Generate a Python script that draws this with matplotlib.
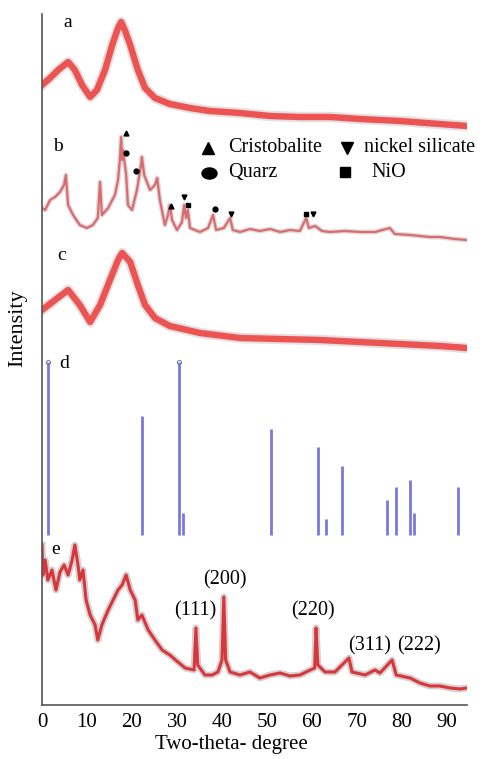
import matplotlib
matplotlib.use("Agg")
import matplotlib.pyplot as plt
from matplotlib.markers import MarkerStyle
from matplotlib.transforms import Affine2D

plt.rcParams['font.family'] = ['Liberation Serif', 'DejaVu Serif']

# ---------------- data (two-theta, relative intensity) ----------------
a_x = [0, 1.8, 3.6, 5.8, 7.3, 8.9, 10.7, 12.2, 14.0, 15.6, 16.9, 17.6, 18.4, 19.6, 21.3,
       22.9, 25.1, 28.4, 32.9, 37.3, 44.0, 50.7, 57.3, 64.0, 70.7, 79.6, 88.4, 94.4]
a_y = [40, 47, 55, 63, 55, 40, 28, 35, 55, 80, 97, 103, 95, 80, 55,
       37, 27, 21, 17, 14, 12, 9, 8, 8, 6, 4, 1, -1]

b_x = [0, 0.7, 1.8, 2.9, 4.0, 4.9, 5.3, 5.8, 6.9, 8.4, 10.0, 11.3, 12.4, 12.9, 13.3,
       14.7, 16.2, 16.9, 17.3, 17.6, 17.8, 18.0, 18.7, 19.1, 20.0, 21.1, 22.0, 22.2, 22.7,
       24.0, 25.1, 25.6, 26.2, 27.3, 28.0, 28.4, 28.9, 30.0, 31.1, 31.6, 32.0, 32.4, 32.9,
       35.1, 36.9, 38.0, 38.7, 40.4, 41.8, 42.4, 44.0, 46.2, 48.4, 50.7, 52.9, 55.1, 57.3,
       58.7, 59.3, 60.7, 62.2, 64.0, 67.3, 70.7, 74.0, 77.3, 78.4, 81.8, 84.0, 86.2, 88.4,
       91.8, 94.4]
b_y = [30, 28, 38, 41, 46, 53, 63, 33, 23, 13, 10, 13, 20, 56, 23,
       30, 43, 58, 78, 101, 78, 88, 63, 33, 28, 48, 73, 81, 63,
       48, 53, 60, 38, 13, 23, 33, 18, 8, 16, 33, 20, 28, 10,
       6, 10, 23, 8, 10, 20, 8, 6, 9, 7, 9, 6, 8, 7,
       20, 10, 12, 7, 6, 7, 6, 6, 10, 4, 3, 2, 1, 1,
       -1, -2]

c_x = [0, 2.9, 5.8, 8.4, 10.7, 12.9, 15.1, 16.9, 17.8, 19.6, 21.3, 22.9, 25.1, 28.4,
       35.1, 44.0, 52.9, 61.8, 70.7, 79.6, 88.4, 94.4]
c_y = [37, 47, 57, 42, 25, 42, 67, 87, 94, 85, 62, 42, 29, 21,
       14, 9, 8, 7, 5, 3, 1, -1]

# reference pattern (d): stick positions and relative intensities
d_x = [1.3, 22.2, 30.4, 31.3, 50.9, 61.3, 63.1, 66.7, 76.7, 78.7, 81.8, 82.7, 92.4]
d_y = [100, 69, 100, 13, 61, 51, 9, 40, 20, 28, 32, 13, 28]

e_x = [0, 0.2, 0.7, 1.3, 2.2, 3.1, 4.0, 4.9, 5.8, 6.7, 7.3, 8.0, 8.4, 9.1, 9.8, 10.7,
       11.8, 12.4, 13.3, 14.7, 15.8, 16.9, 17.8, 18.7, 19.6, 20.7, 21.3, 22.2, 23.6, 25.1,
       26.7, 28.4, 30.2, 31.8, 33.8, 34.2, 34.6, 36.2, 37.8, 39.1, 40.0, 40.4, 40.8, 41.8,
       44.0, 46.2, 48.4, 50.7, 52.9, 55.1, 57.3, 59.6, 60.6, 60.9, 61.3, 62.9, 65.1, 68.2,
       68.9, 71.8, 74.0, 75.1, 77.8, 78.7, 81.8, 84.0, 86.2, 88.4, 90.7, 92.9, 94.4]
e_y = [155, 125, 140, 120, 130, 110, 128, 135, 125, 140, 155, 135, 120, 130, 100, 85,
       75, 60, 75, 90, 100, 110, 115, 125, 110, 100, 80, 85, 70, 60,
       50, 45, 38, 32, 30, 72, 35, 25, 25, 28, 40, 103, 40, 28,
       25, 28, 22, 25, 27, 24, 25, 30, 32, 72, 35, 28, 28, 42,
       28, 25, 30, 27, 40, 25, 22, 17, 14, 14, 12, 11, 12]

# phase markers on pattern b: (two-theta, height)
cristobalite_x, cristobalite_y = [18.7, 28.7], [105, 32]
quarz_x, quarz_y = [18.7, 20.9, 38.4], [85, 67, 29]
nisil_x, nisil_y = [31.6, 42.0, 60.2], [41, 24, 24]
nio_x, nio_y = [32.4, 58.7], [33, 24]

hkl_labels = ['(111)', '(200)', '(220)', '(311)', '(222)']
xticks = [0, 10, 20, 30, 40, 50, 60, 70, 80, 90]

# ---------------- layout ----------------
W, H = 488, 759
fig = plt.figure(figsize=(W / 100, H / 100), dpi=100)
L, R, T, B = 42, 467, 14, 705
ax = fig.add_axes([L / W, 1 - B / H, (R - L) / W, (B - T) / H])
XMAX = (R - L) / 4.5
ax.set_xlim(0, XMAX)
ax.set_ylim(0, B - T)


def P(px, py):
    """pixel position -> data position (for text placement)."""
    return (px - L) / 4.5, B - py


off_a, off_b, off_c, off_d, off_e = 580, 467, 358, 170, 5
d_scale = 1.73

red = '#ee3b3b'
for xs, ys, off in [(a_x, a_y, off_a), (c_x, c_y, off_c)]:
    yy = [v + off for v in ys]
    ax.plot(xs, yy, color='#b8a4a4', lw=7.5, alpha=0.35, solid_joinstyle='round')
    ax.plot(xs, yy, color=red, lw=4.6, alpha=0.85, solid_joinstyle='round')

yb = [v + off_b for v in b_y]
ax.plot(b_x, yb, color='#c0acac', lw=3.6, alpha=0.45, solid_joinstyle='round')
ax.plot(b_x, yb, color='#d8666c', lw=1.6, alpha=0.95, solid_joinstyle='round')

blue = '#7a78dc'
ax.vlines(d_x, off_d, [off_d + v * d_scale for v in d_y], color=blue, lw=2.0)
top_x = [x for x, v in zip(d_x, d_y) if v == max(d_y)]
ax.plot(top_x, [off_d + max(d_y) * d_scale] * len(top_x), 'o', ms=3, mfc='none', mec='#8080a0', mew=0.8)

ye = [v + off_e for v in e_y]
ax.plot(e_x, ye, color='#a89898', lw=5.0, alpha=0.45, solid_joinstyle='round')
ax.plot(e_x, ye, color='#d8262c', lw=2.2, alpha=0.9, solid_joinstyle='round')

# phase markers
mk = dict(color='black', ls='none')
ax.plot(cristobalite_x, [v + off_b for v in cristobalite_y], marker='^', ms=3.5, **mk)
ax.plot(quarz_x, [v + off_b for v in quarz_y], marker='o', ms=3.5, **mk)
ax.plot(nisil_x, [v + off_b for v in nisil_y], marker='v', ms=3.5, **mk)
ax.plot(nio_x, [v + off_b for v in nio_y], marker='s', ms=3.2, **mk)

# legend (drawn manually like the reference)
fs = 14.5
ell = MarkerStyle('o', transform=Affine2D().scale(1.35, 1.0))
for (mx, my), m, ms, (tx, ty), txt in [
        ((208, 148), '^', 8, (228, 147), 'Cristobalite'),
        ((347, 148), 'v', 9, (364, 147), 'nickel silicate'),
        ((209, 173), ell, 8, (228, 172), 'Quarz'),
        ((345, 172), 's', 7, (371, 172), 'NiO')]:
    x, y = P(mx, my)
    ax.plot([x], [y], marker=m, ms=ms, color='black', ls='none', clip_on=False)
    x, y = P(tx, ty)
    ax.text(x, y, txt, fontsize=fs, ha='left', va='center', clip_on=False)

# panel letters
for txt, (px, py) in zip(['a', 'b', 'c', 'd', 'e'],
                         [(68, 22), (58, 146), (62, 256), (64, 363), (56, 549)]):
    x, y = P(px, py)
    ax.text(x, y, txt, fontsize=14, ha='center', va='center')

# hkl labels on pattern e
for txt, (px, py) in zip(hkl_labels, [(195, 611), (225, 580), (313, 611), (370, 646), (419, 646)]):
    x, y = P(px, py)
    ax.text(x, y, txt, fontsize=fs, ha='center', va='center')

# axes styling
for s in ['top', 'right']:
    ax.spines[s].set_visible(False)
for s in ['left', 'bottom']:
    ax.spines[s].set_color('#555555')
    ax.spines[s].set_linewidth(1.2)
ax.set_yticks([])
ax.set_xticks(xticks)
ax.set_xticklabels([str(t) for t in xticks], fontsize=15)
ax.tick_params(axis='x', length=0, pad=6)

fig.text(18 / W, 1 - 328 / H, 'Intensity', rotation=90, fontsize=16, ha='center', va='center')
fig.text(231 / W, 1 - 745 / H, 'Two-theta- degree', fontsize=15, ha='center', va='center')

fig.savefig('out.png', dpi=100)
